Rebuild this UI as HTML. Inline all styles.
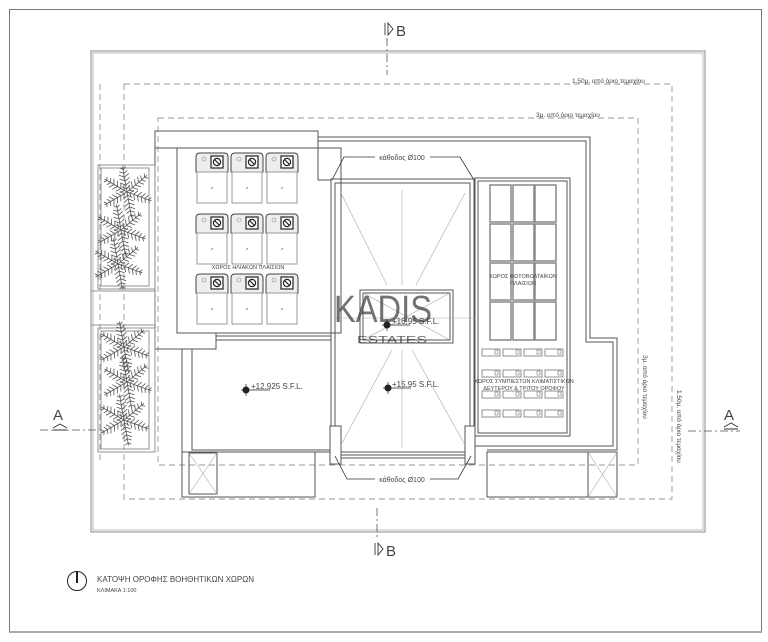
<!DOCTYPE html>
<html><head><meta charset="utf-8"><style>
html,body{margin:0;padding:0;background:#fff;}
svg{display:block;}
text{font-family:"Liberation Sans",sans-serif;fill:#444;}
</style></head><body>
<svg width="768" height="642" viewBox="0 0 768 642" xmlns="http://www.w3.org/2000/svg">
<defs>
<g id="fr" stroke="#555" stroke-width="0.8" fill="none">
<path d="M0 0 L26 0 M3 0 l3 -4 M3 0 l3 4 M7 0 l3 -5 M7 0 l3 5 M11 0 l3 -5 M11 0 l3 5 M15 0 l3 -5 M15 0 l3 5 M19 0 l2 -4 M19 0 l2 4 M23 0 l2 -3 M23 0 l2 3"/>
</g>
<g id="plant">
<use href="#fr" transform="rotate(-40)"/><use href="#fr" transform="rotate(20)"/><use href="#fr" transform="rotate(80)"/><use href="#fr" transform="rotate(150)"/><use href="#fr" transform="rotate(210)"/><use href="#fr" transform="rotate(-100)"/>
</g>
<g id="heat">
<path d="M0 19 L0 4 Q0 0 4 0 L28 0 Q32 0 32 4 L32 19 Z" fill="#eee" stroke="#444" stroke-width="1"/>
<rect x="15" y="3" width="12" height="12" fill="#fff" stroke="#222" stroke-width="1.2"/>
<circle cx="21" cy="9" r="3.6" fill="none" stroke="#222" stroke-width="1.2"/>
<line x1="18.5" y1="6.5" x2="23.5" y2="11.5" stroke="#222" stroke-width="1.2"/>
<circle cx="8" cy="6" r="2" fill="none" stroke="#888" stroke-width="0.6"/>
<rect x="1" y="19" width="30" height="31" fill="#fff" stroke="#999" stroke-width="1"/>
<line x1="15" y1="36" x2="17" y2="34" stroke="#666" stroke-width="0.7"/>
</g>
<g id="ac">
<rect x="0" y="0" width="18" height="7" fill="#fff" stroke="#777" stroke-width="0.8"/>
<rect x="13" y="1" width="3" height="4" fill="none" stroke="#777" stroke-width="0.6"/>
</g>
</defs>

<rect x="9.5" y="9.5" width="752" height="622" fill="none" stroke="#777" stroke-width="1"/>
<line x1="9" y1="632" x2="762" y2="632" stroke="#aaa" stroke-width="2"/>

<rect x="91" y="51" width="614" height="481" fill="none" stroke="#888" stroke-width="1"/>
<rect x="93" y="53" width="610" height="477" fill="none" stroke="#aaa" stroke-width="0.8"/>

<g fill="none" stroke="#999" stroke-width="0.9" stroke-dasharray="6,4">
<rect x="124" y="84" width="548" height="415"/>
<rect x="158" y="118" width="480" height="347"/>
<line x1="100" y1="84" x2="100" y2="460"/>
</g>
<text x="572" y="83" font-size="6.5" fill="#666">1.50μ. από όριο τεμαχίου</text>
<text x="536" y="117" font-size="6.5" fill="#666">3μ. από όριο τεμαχίου</text>
<text x="643" y="355" font-size="6.5" fill="#666" transform="rotate(90 643 355)">3μ. από όριο τεμαχίου</text>
<text x="677" y="390" font-size="6.5" fill="#666" transform="rotate(90 677 390)">1.50μ. από όριο τεμαχίου</text>

<g fill="none" stroke="#555" stroke-width="1">
<polyline points="318,137 590,137 590,338 617,338 617,450 487,450"/>
<polyline points="318,141 586,141 586,342 613,342 613,446 475,446"/>
<rect x="155" y="131" width="163" height="17"/>
<polyline points="155,148 155,349 216,349 216,333"/>
<rect x="177" y="148" width="164" height="185" fill="#fff"/>
<polyline points="318,148 318,180 331,180"/>
<polyline points="182,349 182,497 315,497 315,452"/>
<polyline points="192,349 192,450 331,450"/>
<line x1="182" y1="452" x2="331" y2="452"/>
<line x1="216" y1="340" x2="331" y2="340"/>
<line x1="216" y1="336" x2="331" y2="336"/>
<rect x="189" y="453" width="28" height="41"/>
<rect x="487" y="452" width="130" height="45"/>
<rect x="588" y="452" width="29" height="45"/>
<rect x="331" y="179" width="143" height="276"/>
<rect x="335" y="183" width="135" height="269"/>
<rect x="330" y="426" width="11" height="38" fill="#fff"/>
<rect x="465" y="426" width="10" height="38" fill="#fff"/>
<line x1="341" y1="455" x2="465" y2="455"/>
<line x1="341" y1="458" x2="465" y2="458"/>
<rect x="360" y="290" width="93" height="53"/>
<rect x="363" y="293" width="87" height="47"/>
<rect x="475" y="178" width="95" height="258"/>
<rect x="478" y="181" width="89" height="252"/>
</g>
<g stroke="#aaa" stroke-width="0.6" fill="none">
<line x1="189" y1="453" x2="217" y2="494"/><line x1="217" y1="453" x2="189" y2="494"/>
<line x1="588" y1="452" x2="617" y2="497"/><line x1="617" y1="452" x2="588" y2="497"/>
<line x1="341" y1="193" x2="387" y2="285"/><line x1="465" y1="193" x2="416" y2="285"/>
<line x1="402" y1="190" x2="402" y2="285"/>
<line x1="341" y1="445" x2="392" y2="350"/><line x1="465" y1="445" x2="412" y2="350"/>
<line x1="402" y1="350" x2="402" y2="448"/>
<line x1="363" y1="340" x2="450" y2="293"/><line x1="363" y1="293" x2="450" y2="340"/>
<line x1="336" y1="318" x2="476" y2="318"/>
</g>

<g fill="#fff" stroke="#888" stroke-width="1.5">
<rect x="490" y="185" width="21" height="37"/><rect x="513" y="185" width="21" height="37"/><rect x="535" y="185" width="21" height="37"/>
<rect x="490" y="224" width="21" height="37"/><rect x="513" y="224" width="21" height="37"/><rect x="535" y="224" width="21" height="37"/>
<rect x="490" y="263" width="21" height="37"/><rect x="513" y="263" width="21" height="37"/><rect x="535" y="263" width="21" height="37"/>
<rect x="490" y="302" width="21" height="38"/><rect x="513" y="302" width="21" height="38"/><rect x="535" y="302" width="21" height="38"/>
</g>
<text x="523" y="278" font-size="5.5" text-anchor="middle" fill="#333">ΧΩΡΟΣ ΦΩΤΟΒΟΛΤΑΪΚΩΝ</text>
<text x="523" y="285" font-size="5.5" text-anchor="middle" fill="#333">ΠΛΑΙΣΙΩΝ</text>

<g>
<use href="#ac" x="482" y="349"/><use href="#ac" x="503" y="349"/><use href="#ac" x="524" y="349"/><use href="#ac" x="545" y="349"/>
<use href="#ac" x="482" y="370"/><use href="#ac" x="503" y="370"/><use href="#ac" x="524" y="370"/><use href="#ac" x="545" y="370"/>
<use href="#ac" x="482" y="391"/><use href="#ac" x="503" y="391"/><use href="#ac" x="524" y="391"/><use href="#ac" x="545" y="391"/>
<use href="#ac" x="482" y="410"/><use href="#ac" x="503" y="410"/><use href="#ac" x="524" y="410"/><use href="#ac" x="545" y="410"/>
</g>
<text x="524" y="383" font-size="5.5" text-anchor="middle" fill="#333">ΧΩΡΟΣ ΣΥΜΠΙΕΣΤΩΝ ΚΛΙΜΑΤΙΣΤΙΚΩΝ</text>
<text x="524" y="390" font-size="5.5" text-anchor="middle" fill="#333">ΔΕΥΤΕΡΟΥ &amp; ΤΡΙΤΟΥ ΟΡΟΦΟΥ</text>

<use href="#heat" x="196" y="153"/><use href="#heat" x="231" y="153"/><use href="#heat" x="266" y="153"/>
<use href="#heat" x="196" y="214"/><use href="#heat" x="231" y="214"/><use href="#heat" x="266" y="214"/>
<use href="#heat" x="196" y="274"/><use href="#heat" x="231" y="274"/><use href="#heat" x="266" y="274"/>
<text x="248" y="269" font-size="5.5" text-anchor="middle" fill="#333">ΧΩΡΟΣ ΗΛΙΑΚΩΝ ΠΛΑΙΣΙΩΝ</text>

<g fill="none" stroke="#888" stroke-width="0.9">
<rect x="98" y="165" width="57" height="124"/>
<rect x="101" y="168" width="48" height="118"/>
<rect x="91" y="291" width="64" height="34"/>
<rect x="98" y="328" width="57" height="124"/>
<rect x="101" y="331" width="48" height="118"/>
<line x1="155" y1="165" x2="155" y2="290"/>
</g>
<use href="#plant" transform="translate(127,192)"/>
<use href="#plant" transform="translate(121,230)"/>
<use href="#plant" transform="translate(118,264)"/>
<use href="#plant" transform="translate(124,347)"/>
<use href="#plant" transform="translate(127,382)"/>
<use href="#plant" transform="translate(124,420)"/>

<g fill="none" stroke="#333" stroke-width="0.8">
<polyline points="332,180 344,157 375,157"/>
<polyline points="430,157 460,157 474,180"/>
<polyline points="335,456 347,479 375,479"/>
<polyline points="430,479 458,479 471,456"/>
</g>
<text x="402" y="160" font-size="7" text-anchor="middle" fill="#333">κάθοδος Ø100</text>
<text x="402" y="482" font-size="7" text-anchor="middle" fill="#333">κάθοδος Ø100</text>

<text x="334" y="322" font-size="38" fill="#d4d4d4" textLength="98" lengthAdjust="spacingAndGlyphs" opacity="0.75">KADIS</text>
<text x="357" y="343" font-size="10" fill="#d6d6d6" textLength="70" lengthAdjust="spacingAndGlyphs" opacity="0.8">ESTATES</text>

<g fill="#222">
<circle cx="246" cy="390" r="3.5"/><circle cx="387" cy="325" r="3.5"/><circle cx="388" cy="388" r="3.5"/>
</g>
<g stroke="#222" stroke-width="0.7">
<line x1="241" y1="390" x2="270" y2="390"/><line x1="246" y1="384" x2="246" y2="396"/>
<line x1="382" y1="325" x2="410" y2="325"/><line x1="387" y1="319" x2="387" y2="331"/>
<line x1="383" y1="388" x2="411" y2="388"/><line x1="388" y1="382" x2="388" y2="394"/>
</g>
<text x="251" y="389" font-size="8" fill="#222">+12.925 S.F.L.</text>
<text x="392" y="324" font-size="8" fill="#222">+16.95 S.F.L.</text>
<text x="392" y="387" font-size="8" fill="#222">+15.95 S.F.L.</text>

<g stroke="#555" stroke-width="0.8" fill="none" stroke-dasharray="8,3,2,3">
<line x1="387" y1="38" x2="387" y2="75"/>
<line x1="377" y1="508" x2="377" y2="540"/>
<line x1="40" y1="430" x2="100" y2="430"/>
<line x1="688" y1="431" x2="740" y2="431"/>
</g>
<g stroke="#333" stroke-width="0.9" fill="none">
<line x1="385" y1="23" x2="385" y2="35"/><path d="M388 23 L393 29 L388 35 Z"/>
<line x1="375" y1="543" x2="375" y2="555"/><path d="M378 543 L383 549 L378 555 Z"/>
<path d="M53 428 L60 424 L67 428 M53 430 L67 430"/>
<path d="M724 427 L731 423 L738 427 M724 429 L738 429"/>
</g>
<text x="396" y="36" font-size="15" fill="#222">B</text>
<text x="386" y="556" font-size="15" fill="#222">B</text>
<text x="53" y="420" font-size="15" fill="#222">A</text>
<text x="724" y="420" font-size="15" fill="#222">A</text>

<circle cx="77" cy="581" r="9.5" fill="none" stroke="#222" stroke-width="1"/>
<line x1="77" y1="571" x2="77" y2="583" stroke="#222" stroke-width="2"/>
<text x="97" y="582" font-size="8" fill="#222">ΚΑΤΟΨΗ ΟΡΟΦΗΣ ΒΟΗΘΗΤΙΚΩΝ ΧΩΡΩΝ</text>
<text x="97" y="592" font-size="5.5" fill="#222">ΚΛΙΜΑΚΑ 1:100</text>
</svg>
</body></html>
